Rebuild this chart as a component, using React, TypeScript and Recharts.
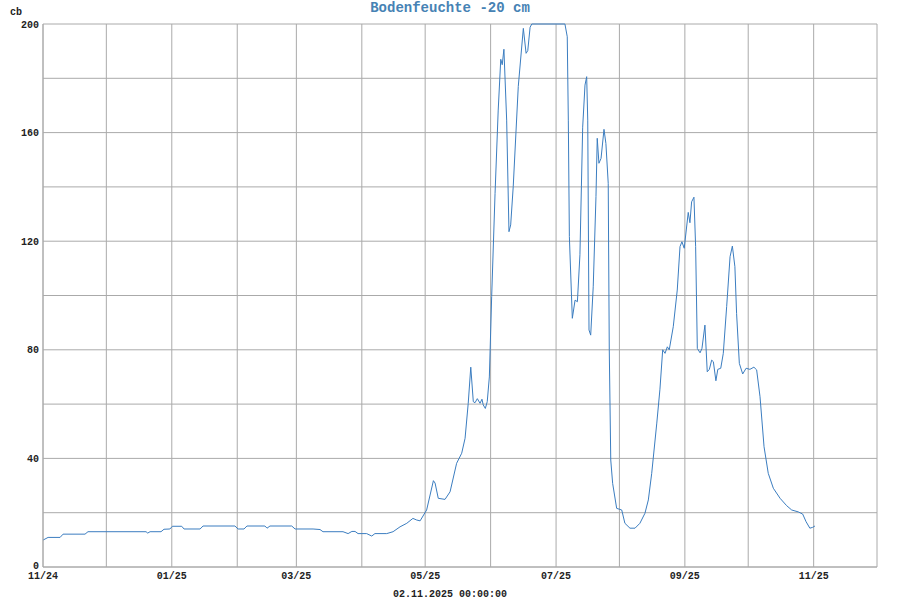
import React from 'react';
import { LineChart, Line, XAxis, YAxis, CartesianGrid } from 'recharts';

// days since 01.11.2024
const days: number[] = [
  0, 2.4, 8.1, 9.5, 19.9, 21.3, 48.8, 49.6, 50.7, 55.9, 57.3, 60.1, 61.3, 65.7, 66.8, 74.4, 75.8, 90.9, 92.4, 95.2,
  96.6, 105.1, 106.1, 107.5, 117.8, 119.4, 127.9, 131.2, 132.6, 142.1, 144.5, 146.3, 147.8, 149.2, 153.3, 155.7, 157.2, 162.8, 165.8, 169.1,
  172.3, 175.2, 177.0, 178.6, 181.7, 184.9, 185.7, 187.2, 190.4, 192.8, 195.9, 198.3, 199.9, 201.4, 202.6, 203.8, 204.6, 205.7, 207.0, 207.9,
  208.5, 209.5, 210.4, 211.4, 212.5, 214.1, 215.6, 216.8, 217.5, 218.3, 219.6, 220.7, 221.5, 222.7, 225.1, 227.5, 228.8, 229.6, 230.7, 231.5,
  247.2, 248.3, 248.8, 249.3, 250.7, 252.0, 253.1, 254.3, 255.6, 256.7, 257.5, 258.0, 258.6, 259.4, 260.6, 261.9, 262.5, 263.3, 264.3, 265.7,
  266.6, 267.7, 268.2, 268.9, 269.8, 271.7, 274.1, 275.6, 278.0, 280.4, 282.7, 285.1, 286.7, 288.3, 290.7, 292.2, 293.5, 294.6, 295.7, 296.6,
  298.5, 300.4, 301.7, 302.6, 303.7, 305.6, 306.4, 307.2, 308.3, 309.1, 309.9, 311.2, 312.1, 313.5, 314.6, 315.6, 316.7, 317.5, 318.7, 319.6,
  321.0, 322.2, 323.8, 325.4, 326.5, 327.7, 328.5, 329.8, 331.4, 333.0, 334.8, 336.7, 338.0, 339.6, 341.5, 343.5, 345.9, 349.1, 352.2, 354.6,
  357.7, 359.8, 361.4, 363.2, 364.5, 365.6,
];

// soil moisture tension in cb
const values: number[] = [
  9.9, 10.9, 10.9, 12.1, 12.1, 13.0, 13.0, 12.5, 13.0, 13.0, 13.9, 14.0, 15.0, 15.0, 14.0, 14.0, 15.1, 15.1, 14.0, 14.0,
  15.1, 15.1, 14.3, 15.1, 15.1, 14.0, 14.0, 13.8, 13.0, 13.0, 12.3, 13.1, 13.1, 12.3, 12.3, 11.4, 12.3, 12.3, 13.0, 14.8,
  16.1, 17.9, 17.3, 17.0, 21, 31.8, 30.9, 25.3, 24.9, 27.7, 38.2, 41.9, 47.4, 60.3, 73.6, 60.9, 60.5, 62, 60.3, 61.8,
  59.7, 58.4, 60.9, 70, 99.6, 137.6, 168.3, 187, 185, 190.7, 164.6, 123.5, 126, 140, 177, 198.4, 189.2, 190.2, 198.8, 200,
  200, 195.3, 164.6, 121.7, 91.6, 98.3, 97.7, 115, 162, 177.5, 180.6, 164.6, 87.3, 85.4, 103.2, 136.4, 157.9, 148.7, 150.5, 161.2,
  156, 141.3, 80, 39.4, 30.8, 21.6, 21, 16.1, 14.3, 14.3, 16.1, 19.8, 24.7, 34.5, 53, 65.5, 80, 78.7, 81.1, 80,
  88.5, 102, 118, 119.8, 117.4, 130.6, 126.8, 134.5, 136.2, 118, 80.5, 78.9, 80.5, 89.1, 71.9, 72.8, 76.2, 75.6, 68.6, 72.8,
  73.2, 78.7, 95.9, 114.3, 118.2, 110.6, 93.4, 75, 71.1, 73.2, 72.8, 73.6, 72.6, 62.7, 44.3, 34.5, 29, 25.3, 22.6, 21,
  20.3, 19.5, 16.7, 14.3, 14.6, 15.1,
];

// month starts (days since 01.11.2024)
const monthTicks: number[] = [0, 30, 61, 92, 120, 151, 181, 212, 243, 273, 304, 334, 365, 395];
const monthLabels: string[] = ['11/24', '', '01/25', '', '03/25', '', '05/25', '', '07/25', '', '09/25', '', '11/25', ''];
const yTicks: number[] = [0, 20, 40, 60, 80, 100, 120, 140, 160, 180, 200];

const title = 'Bodenfeuchte -20 cm';
const unit = 'cb';
const footer = '02.11.2025 00:00:00';

const data = days.map((d, i) => ({ d, v: values[i] }));

const font = '"Liberation Mono", "Courier New", monospace';

const YTick = (props: any) => {
  const { x, y, payload } = props;
  const v = payload.value as number;
  if (v % 40 !== 0) return null;
  return (
    <text
      x={x}
      y={v === 0 ? y - 2 : y}
      dy="0.355em"
      textAnchor="end"
      fontFamily={font}
      fontSize={10}
      fontWeight="bold"
      fill="#222"
    >
      {String(v)}
    </text>
  );
};

export default function App() {
  return (
    <div style={{ position: 'absolute', left: 0, top: 0, width: 900, height: 600, background: '#fff' }}>
      <LineChart width={900} height={600} data={data} margin={{ top: 24, right: 23, bottom: 3, left: 3 }}>
        <CartesianGrid stroke="#aaaaaa" strokeWidth={1} horizontalValues={yTicks} verticalValues={monthTicks} />
        <XAxis
          dataKey="d"
          type="number"
          domain={[0, 395]}
          ticks={monthTicks}
          interval={0}
          height={30}
          tickSize={0}
          tickMargin={5}
          axisLine={{ stroke: '#aaaaaa' }}
          tickLine={false}
          tickFormatter={(t: number) => monthLabels[monthTicks.indexOf(t)] ?? ''}
          tick={{ fontFamily: font, fontSize: 10, fontWeight: 'bold', fill: '#222' }}
        />
        <YAxis
          type="number"
          domain={[0, 200]}
          ticks={yTicks}
          interval={0}
          width={40}
          tickSize={0}
          tickMargin={4}
          axisLine={{ stroke: '#aaaaaa' }}
          tickLine={false}
          tick={<YTick />}
        />
        <Line
          dataKey="v"
          type="linear"
          stroke="#3b7dc0"
          strokeWidth={1}
          dot={false}
          isAnimationActive={false}
        />
      </LineChart>
      <svg width={900} height={600} style={{ position: 'absolute', left: 0, top: 0, pointerEvents: 'none' }}>
        <text x={450} y={12} textAnchor="middle" fontFamily={font} fontSize={14} fontWeight="bold" fill="#4682b4">
          {title}
        </text>
        <text x={10} y={15} fontFamily={font} fontSize={10} fontWeight="bold" fill="#222">
          {unit}
        </text>
        <text x={450} y={597} textAnchor="middle" fontFamily={font} fontSize={10} fontWeight="bold" fill="#222">
          {footer}
        </text>
      </svg>
    </div>
  );
}
